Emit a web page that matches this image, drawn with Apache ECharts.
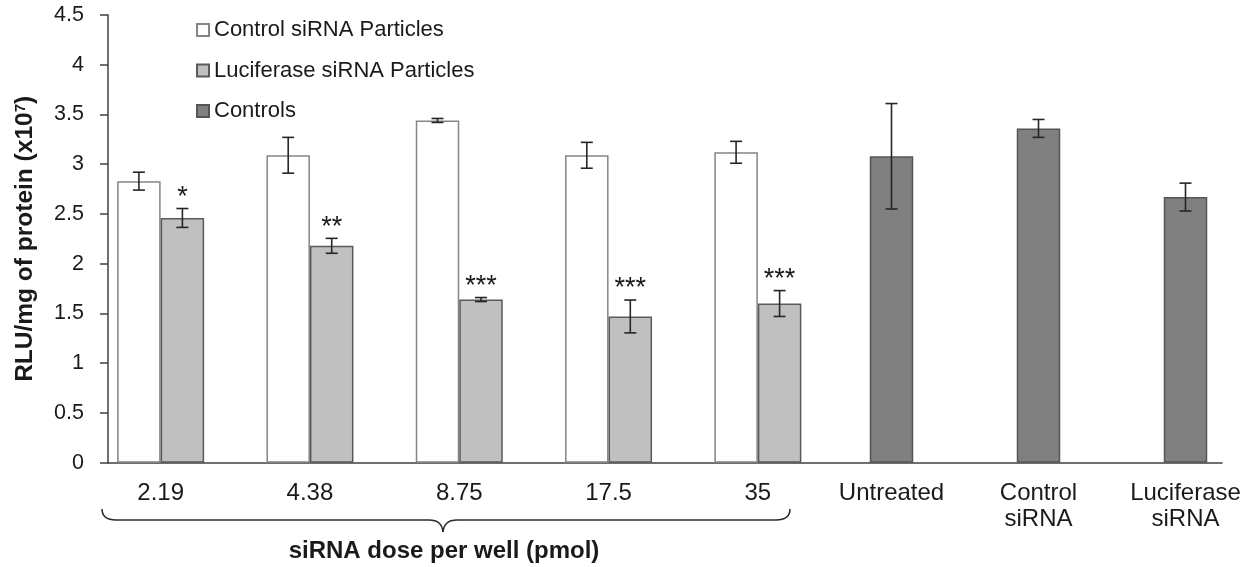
<!DOCTYPE html>
<html>
<head>
<meta charset="utf-8">
<script src="https://cdn.jsdelivr.net/npm/echarts@6/dist/echarts.min.js"></script>
<style>
html,body{margin:0;padding:0;background:#fff;}
#chart{width:1259px;height:567px;}
</style>
</head>
<body>
<div id="chart"></div>
<script>
// ---- data ----
const doseCategories = ['2.19', '4.38', '8.75', '17.5', '35'];
const controlCategories = ['Untreated', 'Control\nsiRNA', 'Luciferase\nsiRNA'];
const controlParticles = [2.83, 3.09, 3.44, 3.09, 3.12];
const controlParticlesErr = [0.09, 0.18, 0.02, 0.13, 0.11];
const lucParticles = [2.46, 2.18, 1.64, 1.47, 1.60];
const lucParticlesErr = [0.095, 0.075, 0.02, 0.165, 0.13];
const controls = [3.08, 3.36, 2.67];
const controlsErr = [0.53, 0.09, 0.14];
const significance = ['*', '**', '***', '***', '***'];
const yMin = 0, yMax = 4.5, yStep = 0.5;
const seriesNames = ['Control siRNA Particles', 'Luciferase siRNA Particles', 'Controls'];
const yTitle = 'RLU/mg of protein (x10';
const yTitleSup = '7';
const groupTitle = 'siRNA dose per well (pmol)';

// ---- styling ----
const FONT = 'Liberation Sans, Arial, Helvetica, sans-serif';
const AXIS_COLOR = '#404040';
const TEXT_COLOR = '#1a1a1a';
const BAR_W = 43.5;
const TOP = 15, BOTTOM = 104.3;

const chart = echarts.init(document.getElementById('chart'), null, {renderer: 'canvas'});

function errRenderer(offset, stars) {
  return function (params, api) {
    const i = api.value(0), v = api.value(1), e = api.value(2);
    const top = api.coord([i, v + e]);
    const bot = api.coord([i, v - e]);
    const x = top[0] + offset;
    const st = {stroke: '#262626', lineWidth: 1.6};
    const children = [
      {type: 'line', shape: {x1: x, y1: top[1], x2: x, y2: bot[1]}, style: st},
      {type: 'line', shape: {x1: x - 6, y1: top[1], x2: x + 6, y2: top[1]}, style: st},
      {type: 'line', shape: {x1: x - 6, y1: bot[1], x2: x + 6, y2: bot[1]}, style: st}
    ];
    if (stars) {
      children.push({
        type: 'text',
        style: {
          text: stars[params.dataIndex], x: x, y: top[1] - 11,
          align: 'center', verticalAlign: 'middle',
          fontSize: 27, fontFamily: FONT, fill: TEXT_COLOR
        }
      });
    }
    return {type: 'group', children: children};
  };
}

const hiddenY = (gi) => ({type: 'value', gridIndex: gi, min: yMin, max: yMax, interval: yStep, show: false});

// brace under the dose groups (decoration)
const braceStyle = {fill: 'none', stroke: '#2a2a2a', lineWidth: 1.5};
const brace = [
  {type: 'bezierCurve', silent: true, shape: {x1: 102, y1: 509, x2: 116, y2: 520, cpx1: 102, cpy1: 520}, style: braceStyle},
  {type: 'line', silent: true, shape: {x1: 116, y1: 520, x2: 429, y2: 520}, style: braceStyle},
  {type: 'bezierCurve', silent: true, shape: {x1: 429, y1: 520, x2: 443, y2: 532, cpx1: 442, cpy1: 520}, style: braceStyle},
  {type: 'bezierCurve', silent: true, shape: {x1: 443, y1: 532, x2: 457, y2: 520, cpx1: 444, cpy1: 520}, style: braceStyle},
  {type: 'line', silent: true, shape: {x1: 457, y1: 520, x2: 776, y2: 520}, style: braceStyle},
  {type: 'bezierCurve', silent: true, shape: {x1: 776, y1: 520, x2: 790, y2: 509, cpx1: 790, cpy1: 520}, style: braceStyle}
];

const option = {
  animation: false,
  backgroundColor: '#fff',
  legend: {
    data: seriesNames,
    orient: 'vertical',
    left: 191, top: 14,
    itemWidth: 12, itemHeight: 12, itemGap: 18.5, itemTextGap: 4,
    icon: 'rect',
    textStyle: {fontSize: 22, fontFamily: FONT, color: TEXT_COLOR}
  },
  grid: [
    {left: 108, width: 1114, top: TOP, bottom: BOTTOM},
    {left: 86, width: 746.5, top: TOP, bottom: BOTTOM},
    {left: 818, width: 447.75, top: TOP, bottom: BOTTOM}
  ],
  xAxis: [
    {type: 'value', gridIndex: 0, min: 0, max: 1,
      axisLine: {show: true, lineStyle: {color: AXIS_COLOR, width: 1.5}},
      axisTick: {show: false}, axisLabel: {show: false}, splitLine: {show: false}},
    {type: 'category', gridIndex: 1, data: doseCategories,
      axisLine: {show: false}, axisTick: {show: false},
      axisLabel: {fontSize: 24, fontFamily: FONT, color: TEXT_COLOR, margin: 18, lineHeight: 26}},
    {type: 'category', gridIndex: 2, data: controlCategories,
      axisLine: {show: false}, axisTick: {show: false},
      axisLabel: {fontSize: 24, fontFamily: FONT, color: TEXT_COLOR, margin: 18, lineHeight: 26}}
  ],
  yAxis: [
    {type: 'value', gridIndex: 0, min: yMin, max: yMax, interval: yStep,
      axisLine: {show: true, lineStyle: {color: AXIS_COLOR, width: 1.5}},
      axisTick: {show: true, length: 8, lineStyle: {color: AXIS_COLOR, width: 1.5}},
      splitLine: {show: false},
      axisLabel: {fontSize: 21.5, fontFamily: FONT, color: TEXT_COLOR, margin: 24},
      name: '{b|' + yTitle + '}{s|' + yTitleSup + '}{b|)}',
      nameLocation: 'middle', nameGap: 70, nameRotate: 90,
      nameTextStyle: {
        rich: {
          b: {fontSize: 24.5, fontWeight: 'bold', fontFamily: FONT, color: TEXT_COLOR},
          s: {fontSize: 15, fontWeight: 'bold', fontFamily: FONT, color: TEXT_COLOR, verticalAlign: 'top', padding: [0, 0, 8, 0]}
        }
      }
    },
    hiddenY(1),
    hiddenY(2)
  ],
  series: [
    {name: seriesNames[0], type: 'bar', xAxisIndex: 1, yAxisIndex: 1, data: controlParticles,
      barWidth: BAR_W, barGap: '0%',
      itemStyle: {color: '#ffffff', borderColor: '#858585', borderWidth: 1.5}},
    {name: seriesNames[1], type: 'bar', xAxisIndex: 1, yAxisIndex: 1, data: lucParticles,
      barWidth: BAR_W, barGap: '0%',
      itemStyle: {color: '#c0c0c0', borderColor: '#5a5a5a', borderWidth: 1.5}},
    {name: seriesNames[2], type: 'bar', xAxisIndex: 2, yAxisIndex: 2, data: controls,
      barWidth: BAR_W,
      itemStyle: {color: '#808080', borderColor: '#555555', borderWidth: 1.5}},
    {type: 'custom', xAxisIndex: 1, yAxisIndex: 1, z: 5,
      data: controlParticles.map((v, i) => [i, v, controlParticlesErr[i]]),
      renderItem: errRenderer(-BAR_W / 2, null)},
    {type: 'custom', xAxisIndex: 1, yAxisIndex: 1, z: 5,
      data: lucParticles.map((v, i) => [i, v, lucParticlesErr[i]]),
      renderItem: errRenderer(BAR_W / 2, significance)},
    {type: 'custom', xAxisIndex: 2, yAxisIndex: 2, z: 5,
      data: controls.map((v, i) => [i, v, controlsErr[i]]),
      renderItem: errRenderer(0, null)}
  ],
  graphic: brace.concat([
    {type: 'text', x: 444, y: 551, silent: true,
      style: {text: groupTitle, align: 'center', verticalAlign: 'middle',
        font: 'bold 24px ' + FONT, fill: TEXT_COLOR}}
  ])
};
chart.setOption(option);
</script>
</body>
</html>
